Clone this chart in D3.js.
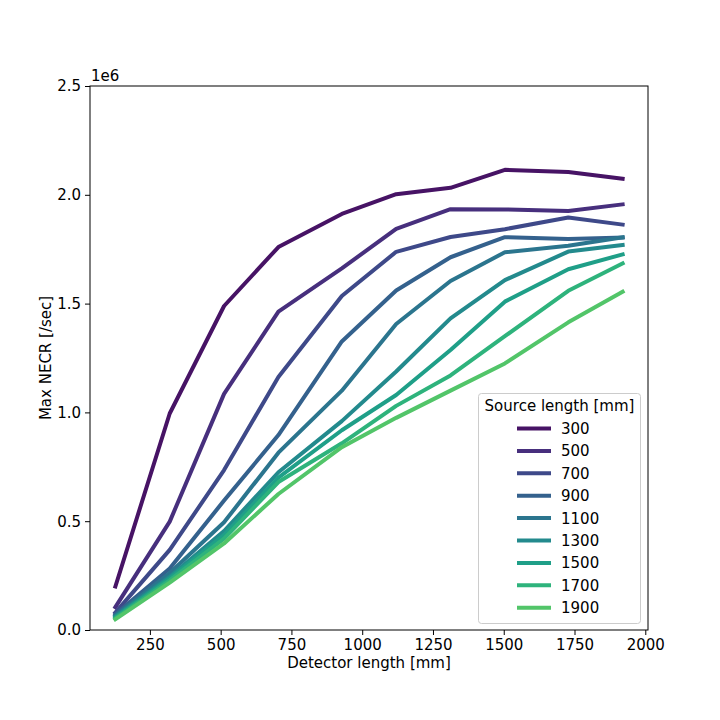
<!DOCTYPE html>
<html><head><meta charset="utf-8">
<script src="https://cdn.jsdelivr.net/npm/d3@7"></script>
<style>
body{margin:0;background:#fff;}
svg{font-family:"DejaVu Sans",sans-serif;}
</style></head>
<body><svg id="c" width="720" height="720"></svg>
<script>
const detectorLengths = [128, 320, 512, 704, 928, 1120, 1312, 1504, 1728, 1920];
const sourceLengths = [300, 500, 700, 900, 1100, 1300, 1500, 1700, 1900];
const s300  = [0.200, 0.995, 1.489, 1.760, 1.912, 2.003, 2.032, 2.115, 2.105, 2.074];
const s500  = [0.105, 0.498, 1.085, 1.463, 1.662, 1.843, 1.934, 1.933, 1.926, 1.956];
const s700  = [0.080, 0.368, 0.735, 1.163, 1.535, 1.738, 1.806, 1.842, 1.896, 1.863];
const s900  = [0.072, 0.283, 0.595, 0.896, 1.326, 1.560, 1.713, 1.805, 1.797, 1.804];
const s1100 = [0.066, 0.262, 0.495, 0.815, 1.100, 1.406, 1.604, 1.736, 1.766, 1.805];
const s1300 = [0.062, 0.245, 0.455, 0.725, 0.960, 1.188, 1.432, 1.608, 1.739, 1.769];
const s1500 = [0.058, 0.237, 0.437, 0.700, 0.918, 1.080, 1.287, 1.509, 1.658, 1.726];
const s1700 = [0.053, 0.228, 0.420, 0.680, 0.858, 1.030, 1.170, 1.350, 1.559, 1.685];
const s1900 = [0.049, 0.218, 0.398, 0.625, 0.840, 0.975, 1.100, 1.225, 1.414, 1.555];
const seriesValues = [s300, s500, s700, s900, s1100, s1300, s1500, s1700, s1900]; // in units of 1e6
const xTicks = [250, 500, 750, 1000, 1250, 1500, 1750, 2000];
const yTicks = [0, 0.5, 1.0, 1.5, 2.0, 2.5];

const svg = d3.select("#c");
const L = 90, R = 648, T = 86, B = 630;
const pad = (1920 - 128) * 0.05;
const x = d3.scaleLinear().domain([128 - pad, 1920 + pad]).range([L, R]);
const y = d3.scaleLinear().domain([0, 2.5]).range([B, T]);
const color = i => d3.interpolateViridis(0.05 + i * (0.68 / 8));

// lines
const line = d3.line().x((d, i) => x(detectorLengths[i])).y(d => y(d));
seriesValues.forEach((vals, i) => {
  svg.append("path").datum(vals).attr("d", line)
    .attr("fill", "none").attr("stroke", color(i)).attr("stroke-width", 4)
    .attr("stroke-linejoin", "round").attr("stroke-linecap", "square");
});

// frame
svg.append("rect").attr("x", L).attr("y", T).attr("width", R - L).attr("height", B - T)
  .attr("fill", "none").attr("stroke", "#000").attr("stroke-width", 1);

// axes
const xAxis = svg.append("g").attr("transform", `translate(0,${B})`)
  .call(d3.axisBottom(x).tickValues(xTicks).tickSize(5).tickPadding(4).tickFormat(d3.format("d")));
const yAxis = svg.append("g").attr("transform", `translate(${L},0)`)
  .call(d3.axisLeft(y).tickValues(yTicks).tickSize(5).tickPadding(4).tickFormat(d3.format(".1f")));
[xAxis, yAxis].forEach(a => {
  a.select(".domain").remove();
  a.selectAll("text").attr("font-size", 15).attr("fill", "#000").attr("font-family", "DejaVu Sans");
  a.selectAll("line").attr("stroke", "#000");
});

svg.append("text").attr("x", L + 1).attr("y", T - 5).attr("font-size", 15).text("1e6");

svg.append("text").attr("x", (L + R) / 2).attr("y", 668).attr("text-anchor", "middle")
  .attr("font-size", 15).text("Detector length [mm]");
svg.append("text").attr("transform", `translate(51,${(T + B) / 2}) rotate(-90)`)
  .attr("text-anchor", "middle").attr("font-size", 15).text("Max NECR [/sec]");

// legend
const lg = svg.append("g");
lg.append("rect").attr("x", 478.5).attr("y", 393.5).attr("width", 162).attr("height", 230)
  .attr("rx", 3).attr("fill", "#fff").attr("fill-opacity", 0.8).attr("stroke", "#ccc");
lg.append("text").attr("x", 559.5).attr("y", 411).attr("text-anchor", "middle")
  .attr("font-size", 15).text("Source length [mm]");
sourceLengths.forEach((s, i) => {
  const yy = 428.5 + i * 22.4;
  lg.append("line").attr("x1", 517).attr("x2", 551).attr("y1", yy).attr("y2", yy)
    .attr("stroke", color(i)).attr("stroke-width", 4);
  lg.append("text").attr("x", 561).attr("y", yy + 5.5).attr("font-size", 15).text(s);
});
</script></body></html>
